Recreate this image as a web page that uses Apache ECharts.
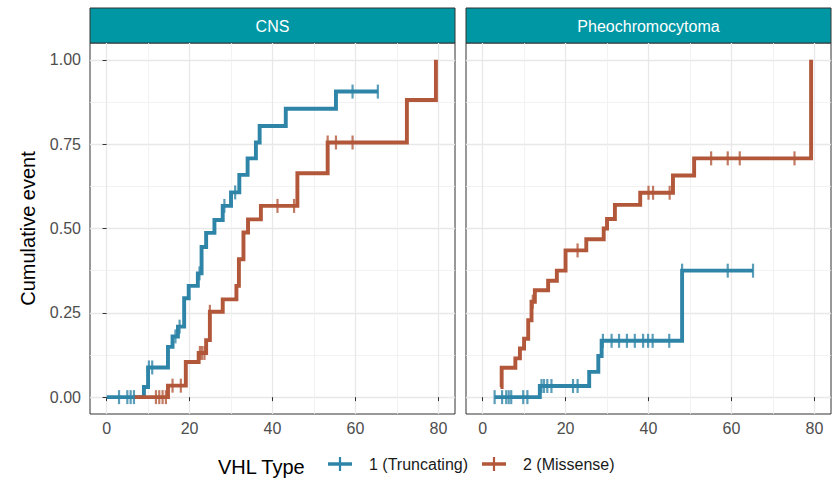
<!DOCTYPE html>
<html><head><meta charset="utf-8">
<script src="https://cdn.jsdelivr.net/npm/echarts@6/dist/echarts.min.js"></script>
<style>html,body{margin:0;padding:0;background:#fff}#c{width:837px;height:478px}</style>
</head><body><div id="c"></div>
<script>
const panels = ['CNS', 'Pheochromocytoma'];
const groups = ['1 (Truncating)', '2 (Missense)'];
const xTicks = [0, 20, 40, 60, 80];
const xMinor = [10, 30, 50, 70];
const yTicks = [0, 0.25, 0.5, 0.75, 1];
const yMinor = [0.125, 0.375, 0.625, 0.875];

// CNS, 1 (Truncating)
const cnsTruncTime = [0, 9.0, 10.0, 14.8, 15.9, 17.2, 18.7, 19.8, 22.0, 22.9, 24.0, 26.0, 28.0, 30.0, 32.0, 34.0, 36.0, 36.9, 43.2, 55.3, 65.4];
const cnsTruncCum  = [0, 0.03, 0.088, 0.149, 0.18, 0.209, 0.293, 0.33, 0.367, 0.445, 0.487, 0.525, 0.567, 0.607, 0.659, 0.708, 0.755, 0.804, 0.855, 0.906, 0.906];
const cnsTruncCensTime = [3.0, 5.0, 5.8, 6.6, 10.2, 11.0, 16.6, 17.6, 22.4, 28.4, 31.0, 59.3, 65.4];
const cnsTruncCensCum  = [0, 0, 0, 0, 0.088, 0.088, 0.18, 0.209, 0.367, 0.567, 0.607, 0.906, 0.906];

// CNS, 2 (Missense)
const cnsMisTime = [6.5, 14.8, 19.1, 22.2, 24.0, 24.9, 28.0, 31.3, 31.9, 33.0, 34.1, 37.2, 46.0, 53.3, 72.4, 79.4];
const cnsMisCum  = [0, 0.034, 0.104, 0.131, 0.169, 0.253, 0.29, 0.33, 0.409, 0.488, 0.527, 0.567, 0.664, 0.755, 0.881, 1.0];
const cnsMisCensTime = [11.9, 12.7, 13.5, 14.3, 15.9, 17.9, 22.5, 23.0, 23.6, 24.9, 41.2, 45.2, 53.3, 55.3, 59.3];
const cnsMisCensCum  = [0, 0, 0, 0, 0.034, 0.034, 0.131, 0.131, 0.131, 0.253, 0.567, 0.567, 0.755, 0.755, 0.755];

// Pheochromocytoma, 1 (Truncating)
const pheoTruncTime = [2.9, 13.8, 25.7, 27.9, 28.7, 48.1, 65.2];
const pheoTruncCum  = [0, 0.033, 0.075, 0.122, 0.167, 0.375, 0.375];
const pheoTruncCensTime = [2.9, 4.7, 5.7, 6.3, 6.9, 9.8, 10.8, 14.2, 14.8, 15.6, 16.6, 21.8, 22.9, 29.0, 31.1, 32.9, 34.8, 36.7, 38.7, 39.9, 41.0, 45.0, 48.1, 59.1, 65.2];
const pheoTruncCensCum  = [0, 0, 0, 0, 0, 0, 0, 0.033, 0.033, 0.033, 0.033, 0.033, 0.033, 0.167, 0.167, 0.167, 0.167, 0.167, 0.167, 0.167, 0.167, 0.167, 0.375, 0.375, 0.375];

// Pheochromocytoma, 2 (Missense)
const pheoMisTime = [4.3, 4.6, 7.9, 9.0, 10.0, 11.0, 11.8, 12.6, 15.8, 17.9, 20.0, 25.0, 29.2, 30.0, 31.9, 38.0, 45.9, 51.0, 79.2];
const pheoMisCum  = [0.03, 0.087, 0.115, 0.144, 0.173, 0.228, 0.283, 0.317, 0.345, 0.375, 0.435, 0.468, 0.50, 0.528, 0.570, 0.606, 0.657, 0.708, 1.0];
const pheoMisCensTime = [12.1, 22.9, 40.0, 41.1, 45.1, 55.1, 59.1, 62.0, 75.2];
const pheoMisCensCum  = [0.283, 0.435, 0.606, 0.606, 0.606, 0.708, 0.708, 0.708, 0.708];

const FONT = '"Liberation Sans", Arial, sans-serif';
const colors = ['#2f85a8', '#b2573a'];
const stripColor = '#0097a5';
const pair = (a, b) => a.map((v, i) => [v, b[i]]);

const curves = [
  [[cnsTruncTime, cnsTruncCum, cnsTruncCensTime, cnsTruncCensCum], [cnsMisTime, cnsMisCum, cnsMisCensTime, cnsMisCensCum]],
  [[pheoTruncTime, pheoTruncCum, pheoTruncCensTime, pheoTruncCensCum], [pheoMisTime, pheoMisCum, pheoMisCensTime, pheoMisCensCum]]
];

const gridLeft = [90, 466], gridTop = 43, gridW = 365, gridH = 371;

const grids = [], xAxes = [], yAxes = [], series = [], graphics = [];
panels.forEach((p, i) => {
  grids.push({left: gridLeft[i], top: gridTop, width: gridW, height: gridH, show: true,
    borderColor: '#333', borderWidth: 1, backgroundColor: '#fff'});
  xAxes.push({type: 'value', gridIndex: i, min: -4, max: 84,
    axisLine: {show: false},
    axisTick: {show: true, length: 4, lineStyle: {color: '#333', width: 1}, customValues: xTicks},
    axisLabel: {customValues: xTicks, color: '#4d4d4d', fontSize: 16, margin: 6, fontFamily: FONT},
    splitLine: {show: true, lineStyle: {color: '#e8e8e8', width: 1.3}}});
  yAxes.push({type: 'value', gridIndex: i, min: -0.05, max: 1.05,
    axisLine: {show: false},
    axisTick: {show: i === 0, length: 4, lineStyle: {color: '#333', width: 1}, customValues: yTicks},
    axisLabel: {show: i === 0, customValues: yTicks, formatter: v => v.toFixed(2), color: '#4d4d4d', fontSize: 16, margin: 9, fontFamily: FONT},
    splitLine: {show: true, lineStyle: {color: '#e8e8e8', width: 1.3}},
    name: i === 0 ? 'Cumulative event' : '', nameLocation: 'middle', nameGap: 52,
    nameTextStyle: {fontSize: 20, color: '#000', fontFamily: FONT}});
});
panels.forEach((p, i) => {
  xAxes.push({type: 'value', gridIndex: i, min: -4, max: 84,
    axisLine: {show: false}, axisTick: {show: false, customValues: xMinor}, axisLabel: {show: false, customValues: xMinor},
    splitLine: {show: true, lineStyle: {color: '#efefef', width: 0.8}}});
  yAxes.push({type: 'value', gridIndex: i, min: -0.05, max: 1.05,
    axisLine: {show: false}, axisTick: {show: false, customValues: yMinor}, axisLabel: {show: false, customValues: yMinor},
    splitLine: {show: true, lineStyle: {color: '#efefef', width: 0.8}}});
});

panels.forEach((p, i) => {
  curves[i].forEach((c, g) => {
    series.push({type: 'line', name: groups[g], xAxisIndex: i, yAxisIndex: i, step: 'end',
      data: pair(c[0], c[1]), showSymbol: false, symbol: 'none', color: colors[g],
      lineStyle: {color: colors[g], width: 3.9, join: 'miter', cap: 'butt'}, z: 3 + g, silent: true});
  });
  curves[i].forEach((c, g) => {
    series.push({type: 'scatter', name: groups[g], xAxisIndex: i, yAxisIndex: i,
      data: pair(c[2], c[3]), symbol: 'rect', symbolSize: [2.2, 14], color: colors[g],
      itemStyle: {color: colors[g], opacity: 0.8}, z: 5 + g, silent: true});
  });
  graphics.push({type: 'rect', shape: {x: gridLeft[i], y: 8, width: gridW, height: 35},
    style: {fill: stripColor, stroke: '#333', lineWidth: 1}});
  graphics.push({type: 'text', x: gridLeft[i] + gridW / 2, y: 26,
    style: {text: p, fill: '#fff', fontSize: 16, fontFamily: FONT, align: 'center', verticalAlign: 'middle'}});
});
graphics.push({type: 'text', x: 218, y: 467,
  style: {text: 'VHL Type', fill: '#000', fontSize: 20, fontFamily: FONT, align: 'left', verticalAlign: 'middle'}});

const plusIcon = 'path://M0,5.2H10.9V0H13.1V5.2H24V8.8H13.1V14H10.9V8.8H0Z';

const chart = echarts.init(document.getElementById('c'), null, {renderer: 'svg'});
chart.setOption({
  animation: false,
  backgroundColor: '#fff',
  grid: grids, xAxis: xAxes, yAxis: yAxes, series: series, graphic: graphics,
  legend: {left: 323, top: 451, padding: 5, itemWidth: 24, itemHeight: 14, itemGap: 14,
    data: groups.map(n => ({name: n, icon: plusIcon})),
    textStyle: {fontSize: 16, color: '#1a1a1a', fontFamily: FONT, padding: [0, 0, 0, 12]}}
});
</script></body></html>
